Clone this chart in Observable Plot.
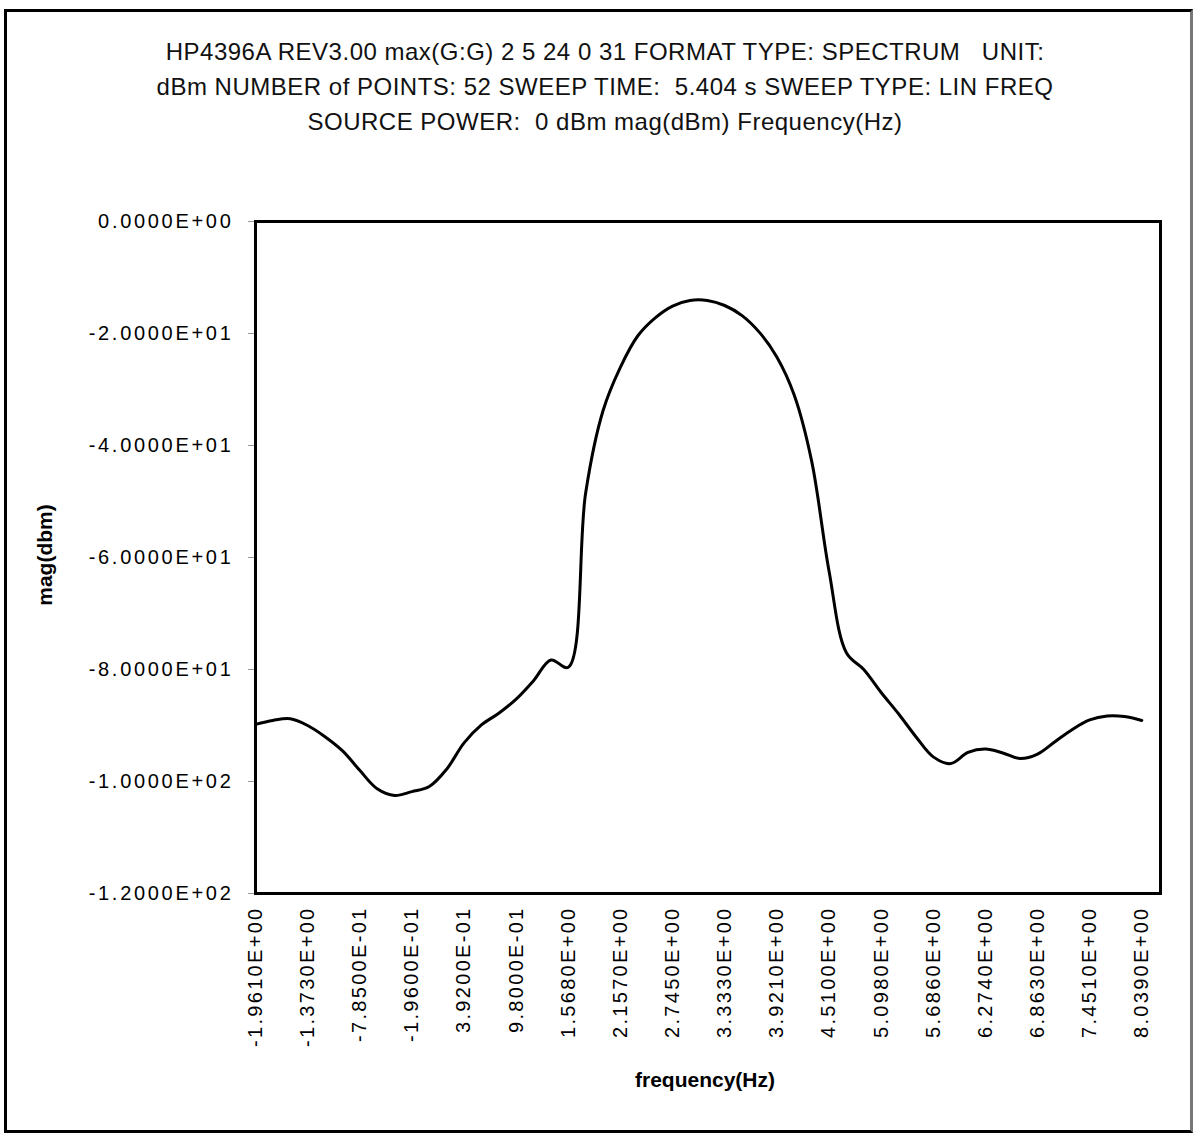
<!DOCTYPE html>
<html><head><meta charset="utf-8">
<script src="https://cdn.jsdelivr.net/npm/d3@7"></script>
<script src="https://cdn.jsdelivr.net/npm/@observablehq/plot@0.6"></script>
<style>
html,body{margin:0;padding:0;background:#fff;}
#page{position:relative;width:1197px;height:1135px;overflow:hidden;font-family:"Liberation Sans",Arial,sans-serif;color:#000;background:#fff;}
#border{position:absolute;left:4px;top:9px;width:1183px;height:1118px;border:3px solid #000;border-right-color:#777;}
#title{position:absolute;left:0;width:1210px;top:34px;text-align:center;font-size:24px;letter-spacing:0.5px;line-height:35px;color:#111;}
#chart{position:absolute;left:0;top:200px;}
#xlabel{position:absolute;left:605px;width:200px;top:1068px;text-align:center;font-weight:bold;font-size:21px;}
#ylabel{position:absolute;left:-55px;width:200px;top:543px;text-align:center;font-weight:bold;font-size:21px;transform:rotate(-90deg);}
#chart svg g[aria-label="y-axis tick label"] text{letter-spacing:2.7px;}
#chart svg g[aria-label="x-axis tick label"] text{letter-spacing:2.3px;}
</style></head>
<body><div id="page"><div id="border"></div>
<div id="title">HP4396A REV3.00 max(G:G) 2 5 24 0 31 FORMAT TYPE: SPECTRUM&nbsp;&nbsp; UNIT:<br>dBm NUMBER of POINTS: 52 SWEEP TIME:&nbsp; 5.404 s SWEEP TYPE: LIN FREQ<br>SOURCE POWER:&nbsp; 0 dBm mag(dBm) Frequency(Hz)</div>
<div id="chart"></div>
<div id="xlabel">frequency(Hz)</div>
<div id="ylabel">mag(dbm)</div>
</div>
<script>
const frequency = [-1.961,-1.765,-1.569,-1.373,-1.177,-0.981,-0.785,-0.588,-0.392,-0.196,
  0.000,0.196,0.392,0.588,0.784,0.980,1.176,1.372,1.568,1.764,
  1.960,2.157,2.353,2.549,2.745,2.941,3.137,3.333,3.529,3.725,
  3.921,4.117,4.314,4.510,4.706,4.902,5.098,5.294,5.490,5.686,
  5.882,6.078,6.274,6.471,6.667,6.863,7.059,7.255,7.451,7.647,
  7.843,8.039];
const magnitude = [-89.8,-89.1,-88.8,-90.0,-92.0,-94.5,-98.0,-101.3,-102.5,-101.8,
  -100.9,-97.8,-93.1,-89.9,-87.8,-85.3,-82.0,-78.3,-79.6,-48.5,
  -33.8,-26.0,-20.4,-17.2,-15.1,-14.1,-14.1,-15.0,-16.8,-19.8,
  -24.2,-31.0,-42.8,-62.4,-77.0,-80.0,-84.1,-87.9,-92.0,-95.6,
  -96.8,-94.8,-94.2,-94.9,-95.9,-95.1,-92.9,-90.7,-89.0,-88.3,
  -88.4,-89.1];
const xTickValues = [-1.961,-1.373,-0.785,-0.196,0.392,0.980,1.568,2.157,2.745,3.333,3.921,4.510,5.098,5.686,6.274,6.863,7.451,8.039];
const xTickLabels = ["-1.9610E+00","-1.3730E+00","-7.8500E-01","-1.9600E-01","3.9200E-01","9.8000E-01","1.5680E+00","2.1570E+00","2.7450E+00","3.3330E+00","3.9210E+00","4.5100E+00","5.0980E+00","5.6860E+00","6.2740E+00","6.8630E+00","7.4510E+00","8.0390E+00"];
const yTickValues = [0,-20,-40,-60,-80,-100,-120];
const yTickLabels = ["0.0000E+00","-2.0000E+01","-4.0000E+01","-6.0000E+01","-8.0000E+01","-1.0000E+02","-1.2000E+02"];

const data = frequency.map((f, i) => ({f, m: magnitude[i]}));

const chart = Plot.plot({
  width: 1197,
  height: 910,
  marginLeft: 255,
  marginRight: 37,
  marginTop: 21,
  marginBottom: 217,
  style: {fontFamily: '"Liberation Sans", Arial, sans-serif', fontSize: "20px", color: "#000", background: "transparent", overflow: "visible"},
  x: {domain: [-1.961, 8.25]},
  y: {domain: [-120, 0]},
  marks: [
    Plot.axisY({ticks: yTickValues, tickFormat: d => yTickLabels[yTickValues.indexOf(d)], tickSize: 7, tickPadding: 15, stroke: "#999", fill: "#000", label: null, fontSize: 20}),
    Plot.axisX({ticks: xTickValues, tickFormat: d => xTickLabels[xTickValues.indexOf(d)], tickRotate: -90, tickSize: 0, tickPadding: 13, fill: "#000", label: null, fontSize: 20}),
    Plot.line(data, {x: "f", y: "m", curve: "catmull-rom", stroke: "#000", strokeWidth: 3}),
    Plot.frame({stroke: "#000", strokeWidth: 3})
  ]
});
document.getElementById("chart").appendChild(chart);
</script>
</body></html>
